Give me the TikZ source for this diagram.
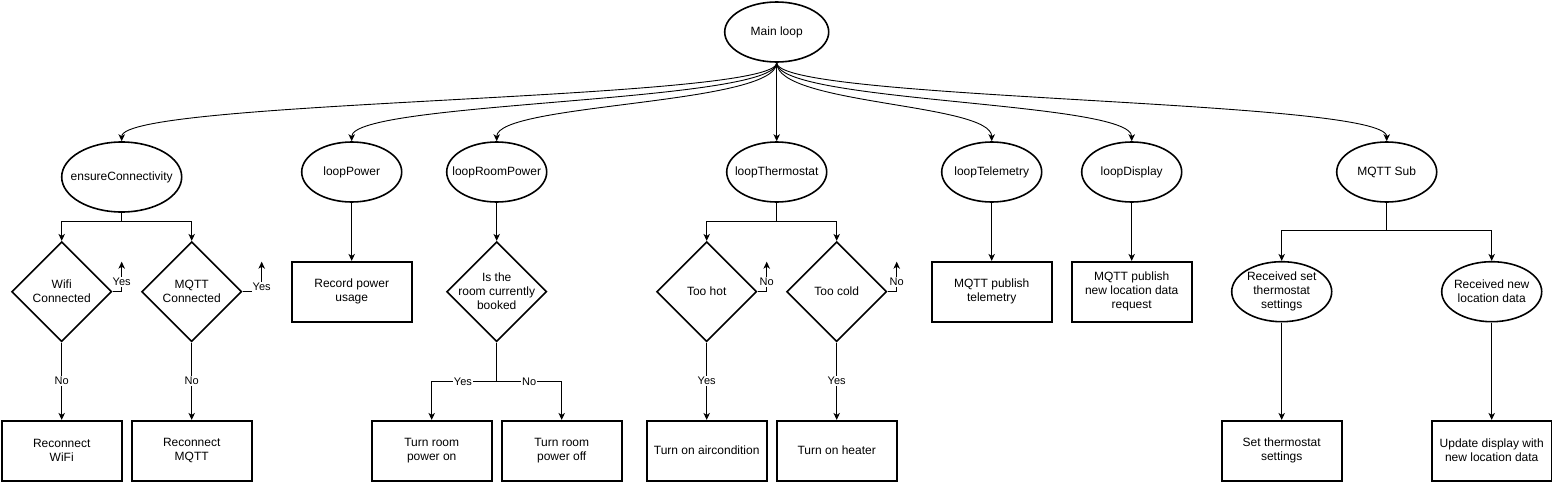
\documentclass[tikz,border=0pt]{standalone}
\usepackage{fontspec}
\setmainfont{Liberation Sans}
\usetikzlibrary{shapes.geometric,arrows.meta}
\tikzset{
  every node/.style={font=\fontsize{12}{14}\selectfont, align=center},
  ell/.style={ellipse, draw, line width=1.6pt, minimum width=100pt, minimum height=60pt, inner sep=-12pt},
  dia/.style={diamond, draw, line width=1.6pt, minimum width=100pt, minimum height=100pt, inner sep=-14pt},
  box/.style={rectangle, draw, line width=1.6pt, minimum width=120pt, minimum height=60pt, inner sep=0pt},
  arr/.style={line width=0.9pt, -{Stealth[length=7pt,width=6.5pt,inset=2pt]}},
  ln/.style={line width=0.9pt},
  lbl/.style={font=\fontsize{11}{13}\selectfont, fill=white, inner sep=1pt},
  crv/.style={arr, looseness=1}
}
\begin{document}
\begin{tikzpicture}[x=1pt,y=-1pt]
\useasboundingbox (0,0) rectangle (1552,482);
% top
\node[ell, minimum width=104pt] (main) at (776.7,32) {Main loop};
% row 1
\node[ell, minimum width=120pt, minimum height=70pt] (ec) at (121.7,177) {ensureConnectivity};
\node[ell] (lp) at (351.7,172) {loopPower};
\node[ell] (lrp) at (496.7,172) {loopRoomPower};
\node[ell] (lt) at (776.7,172) {loopThermostat};
\node[ell] (ltel) at (991.7,172) {loopTelemetry};
\node[ell] (ld) at (1131.7,172) {loopDisplay};
\node[ell] (ms) at (1386.7,172) {MQTT Sub};
% row 2
\node[dia] (wifi) at (61.7,291.7) {Wifi\\Connected};
\node[dia] (mq) at (191.7,291.7) {MQTT\\Connected};
\node[box] (rpu) at (351.7,291.7) {Record power\\usage};
\node[dia] (bk) at (496.7,291.7) {Is the\\room currently\\booked};
\node[dia] (hot) at (706.7,291.7) {Too hot};
\node[dia] (cold) at (836.7,291.7) {Too cold};
\node[box] (tel) at (991.7,291.7) {MQTT publish\\telemetry};
\node[box] (disp) at (1131.7,291.7) {MQTT publish\\new location data\\request};
\node[ell] (rst) at (1281.7,291.7) {Received set\\thermostat\\settings};
\node[ell] (rnl) at (1491.7,291.7) {Received new\\location data};
% row 3
\node[box] (rw) at (61.7,450.7) {Reconnect\\WiFi};
\node[box] (rm) at (191.7,450.7) {Reconnect\\MQTT};
\node[box] (on) at (431.7,450.7) {Turn room\\power on};
\node[box] (off) at (561.7,450.7) {Turn room\\power off};
\node[box] (ac) at (706.7,450.7) {Turn on aircondition};
\node[box] (heat) at (836.7,450.7) {Turn on heater};
\node[box] (sts) at (1281.7,450.7) {Set thermostat\\settings};
\node[box] (upd) at (1491.7,450.7) {Update display with\\new location data};
% helper coordinates
\coordinate (ecs) at (121.7,221.7);
\coordinate (wy) at (121.7,261.7);
\coordinate (my) at (261.7,261.7);
\coordinate (bs) at (496.7,381.7);
\coordinate (lts) at (776.7,221.7);
\coordinate (hy) at (766.7,261.7);
\coordinate (cy) at (896.7,261.7);
\coordinate (mss) at (1386.7,230.7);
% main loop fan-out
\draw[crv] (main.south) .. controls +(0,38) and +(0,-42) .. (ec.north);
\draw[crv] (main.south) .. controls +(0,40) and +(0,-40) .. (lp.north);
\draw[crv] (main.south) .. controls +(0,42) and +(0,-38) .. (lrp.north);
\draw[arr] (main.south) -- (lt.north);
\draw[crv] (main.south) .. controls +(0,42) and +(0,-38) .. (ltel.north);
\draw[crv] (main.south) .. controls +(0,40) and +(0,-40) .. (ld.north);
\draw[crv] (main.south) .. controls +(0,38) and +(0,-42) .. (ms.north);
% ensureConnectivity
\draw[ln] (ec.south) -- (ecs);
\draw[arr] (ecs) -| (wifi.north);
\draw[arr] (ecs) -| (mq.north);
\draw[arr] (wifi.east) -| node[lbl,pos=0.66]{Yes} (wy);
\draw[arr] (mq.east) -| node[lbl,pos=0.58]{Yes} (my);
\draw[arr] (wifi.south) -- node[lbl]{No} (rw.north);
\draw[arr] (mq.south) -- node[lbl]{No} (rm.north);
% loopPower
\draw[arr] (lp.south) -- (rpu.north);
% loopRoomPower
\draw[arr] (lrp.south) -- (bk.north);
\draw[ln] (bk.south) -- (bs);
\draw[arr] (bs) -| node[lbl,pos=0.26]{Yes} (on.north);
\draw[arr] (bs) -| node[lbl,pos=0.25]{No} (off.north);
% loopThermostat
\draw[ln] (lt.south) -- (lts);
\draw[arr] (lts) -| (hot.north);
\draw[arr] (lts) -| (cold.north);
\draw[arr] (hot.east) -| node[lbl,pos=0.667]{No} (hy);
\draw[arr] (cold.east) -| node[lbl,pos=0.667]{No} (cy);
\draw[arr] (hot.south) -- node[lbl]{Yes} (ac.north);
\draw[arr] (cold.south) -- node[lbl]{Yes} (heat.north);
% telemetry / display
\draw[arr] (ltel.south) -- (tel.north);
\draw[arr] (ld.south) -- (disp.north);
% MQTT Sub
\draw[ln] (ms.south) -- (mss);
\draw[arr] (mss) -| (rst.north);
\draw[arr] (mss) -| (rnl.north);
\draw[arr] (rst.south) -- (sts.north);
\draw[arr] (rnl.south) -- (upd.north);
\end{tikzpicture}
\end{document}
